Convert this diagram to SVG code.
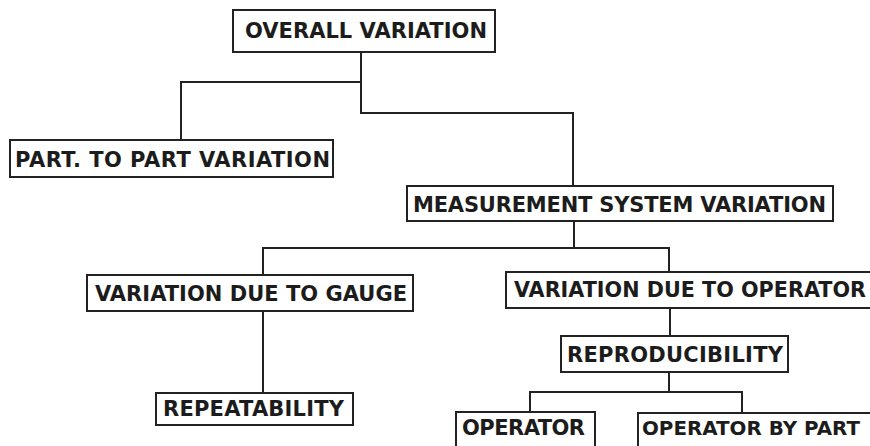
<svg xmlns="http://www.w3.org/2000/svg" width="870" height="446" viewBox="0 0 870 446">
<style>
.box{fill:#fff;stroke:#222;stroke-width:2}
.lbl{font-family:"DejaVu Sans","Verdana",sans-serif;font-weight:bold;font-size:21px;fill:#1c1c1c}
.conn{fill:none;stroke:#222;stroke-width:2}
</style>
<rect width="870" height="446" fill="#fff"/>
<g id="connectors">
<polyline class="conn" points="361,52 361,113 573,113 573,186"/>
<polyline class="conn" points="361,82 181,82 181,140"/>
<polyline class="conn" points="574,221 574,248"/>
<polyline class="conn" points="263,275 263,248 669,248 669,272"/>
<polyline class="conn" points="263,311 263,393"/>
<polyline class="conn" points="670,308 670,336"/>
<polyline class="conn" points="669,372 669,392"/>
<polyline class="conn" points="530,412 530,392 742,392 742,413"/>
</g>
<g id="overall">
<rect class="box" x="233" y="10" width="262" height="42"/>
<text class="lbl" x="245" y="38" textLength="242">OVERALL VARIATION</text>
</g>
<g id="part">
<rect class="box" x="10" y="140" width="323" height="37"/>
<text class="lbl" x="15" y="167" textLength="315">PART. TO PART VARIATION</text>
</g>
<g id="measurement">
<rect class="box" x="407" y="186" width="426" height="35"/>
<text class="lbl" x="413" y="212" textLength="413">MEASUREMENT SYSTEM VARIATION</text>
</g>
<g id="gauge">
<rect class="box" x="87" y="275" width="326" height="36"/>
<text class="lbl" x="95" y="301" textLength="312">VARIATION DUE TO GAUGE</text>
</g>
<g id="operator-var">
<rect class="box" x="506" y="272" width="380" height="36"/>
<text class="lbl" x="514" y="297" textLength="352" lengthAdjust="spacingAndGlyphs">VARIATION DUE TO OPERATOR</text>
</g>
<g id="repro">
<rect class="box" x="561" y="336" width="227" height="36"/>
<text class="lbl" x="567" y="362" textLength="216">REPRODUCIBILITY</text>
</g>
<g id="repeat">
<rect class="box" x="156" y="393" width="197" height="32"/>
<text class="lbl" x="163" y="416" textLength="181">REPEATABILITY</text>
</g>
<g id="operator">
<rect class="box" x="456" y="412" width="139" height="50"/>
<text class="lbl" x="462" y="435" textLength="123">OPERATOR</text>
</g>
<g id="operator-by-part">
<rect class="box" x="638" y="413" width="260" height="50"/>
<text class="lbl" x="642" y="435" style="font-size:19.5px" textLength="218" lengthAdjust="spacingAndGlyphs">OPERATOR BY PART</text>
</g>
</svg>
